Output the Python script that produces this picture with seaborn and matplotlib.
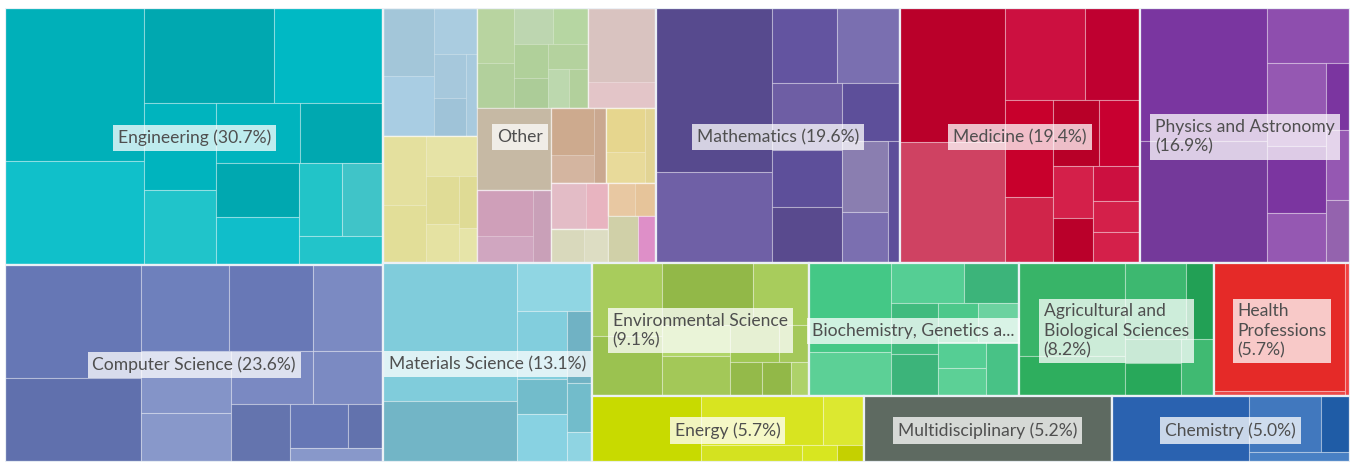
import matplotlib
matplotlib.use("Agg")
import matplotlib.pyplot as plt
from matplotlib.patches import Rectangle
import seaborn as sns

# ---------------- data ----------------
categories = ["Engineering", "Computer Science", "Other", "Mathematics", "Medicine",
              "Physics and Astronomy", "Materials Science", "Environmental Science",
              "Biochemistry, Genetics and Molecular Biology",
              "Agricultural and Biological Sciences", "Health Professions", "Energy",
              "Multidisciplinary", "Chemistry"]
shares = [30.7, 23.6, 22.0, 19.6, 19.4, 16.9, 13.1, 9.1, 8.8, 8.2, 5.7, 5.7, 5.2, 5.0]
labels = ["Engineering (30.7%)", "Computer Science (23.6%)", "Other", "Mathematics (19.6%)",
          "Medicine (19.4%)", "Physics and Astronomy\n(16.9%)", "Materials Science (13.1%)",
          "Environmental Science\n(9.1%)", "Biochemistry, Genetics a...",
          "Agricultural and\nBiological Sciences\n(8.2%)", "Health\nProfessions\n(5.7%)",
          "Energy (5.7%)", "Multidisciplinary (5.2%)", "Chemistry (5.0%)"]

engineering_sub = [20976, 14214, 12220, 10340, 6120, 5328, 4956, 4956, 4400, 3900, 3168, 2952, 2380]
computer_sub = [15255, 11340, 7565, 7224, 6003, 5607, 4361, 4300, 3723, 3363, 2494, 1548, 1316]
other_sub = [11800, 11700, 11000, 6800, 6068, 5400, 4050, 3750, 2576, 1904, 1584, 1410, 846]
other_blue = [3400, 3000, 1932, 1428, 1200, 840]
other_yellow = [2900, 2400, 2000, 1600, 1300, 900, 600]
other_green = [2035, 1665, 1406, 1258, 1122, 1020, 950, 836, 708]
other_beige = [5000, 1800]
other_mauve = [2600, 1500, 1300]
other_brown = [2000, 1200, 850]
other_gold = [1700, 1200, 850]
other_pink = [1600, 976]
other_sage = [1100, 804]
other_peach = [900, 684]
math_sub = [18700, 10374, 4800, 4650, 4623, 3933, 3864, 3312, 3249, 2346, 1353]
medicine_sub = [14070, 12705, 7360, 5060, 4655, 3150, 3000, 2665, 2067, 1755, 1692, 1457, 1457]
physics_sub = [16800, 15330, 4565, 4920, 4000, 2950, 1600, 1680, 1512]
materials_sub = [18084, 7920, 3504, 3283, 1715, 2303, 1750, 1200, 725]
environment_sub = [4896, 4012, 5415, 3300, 2052, 2640, 1749, 1056, 1025, 960, 567]
biochem_sub = [7216, 3526, 2920, 2200, 2350, 1927, 1520, 1558, 1280, 1312, 1701]
agri_sub = [9450, 4095, 4500, 2035, 1295, 1763, 1804]
health_sub = [16256, 650, 660]
energy_sub = [6912, 5760, 1924, 1645, 564, 425]
multi_sub = [15744]
chemistry_sub = [8768, 3840, 1560, 1000]

# ---------------- styles ----------------
sub_values = [engineering_sub, computer_sub, other_sub, math_sub, medicine_sub, physics_sub,
              materials_sub, environment_sub, biochem_sub, agri_sub, health_sub, energy_sub,
              multi_sub, chemistry_sub]
sub_colors = [
    ["#00B0B9", "#10C0CA", "#00A8B0", "#00B9C4", "#00B4BE", "#20C4CA", "#00B4BE", "#00A8B0",
     "#00A8B0", "#10BECA", "#22C4C8", "#40C4C8", "#22C4CA"],
    ["#6677B5", "#6070AD", "#6E80BC", "#6878B6", "#7B8AC2", "#8494C8", "#8898CA", "#7A89C2",
     "#7B8AC2", "#6474AE", "#6677B5", "#6272AD", "#8898CA"],
    ["#A5C8DD", "#E3DF9C", "#B6D4A0", "#D9C3C0", "#C6B9A4", "#CFA0BA", "#CDAA90", "#E6D690",
     "#E3BAC5", "#D8D8BA", "#E8C8A0", "#D0D0A8", "#DE8FC8"],
    ["#574A8E", "#6F60A6", "#6354A0", "#7A6FB0", "#6E5EA4", "#5D4F9A", "#594A8E", "#5D4F9A",
     "#8A7EB0", "#7B6FB0", "#5D4F9A"],
    ["#BA002A", "#CF4262", "#CC1040", "#BF0030", "#C8002C", "#D0254A", "#B80028", "#C80030",
     "#D4204A", "#BA002A", "#CC1040", "#D4204A", "#D4204A"],
    ["#7A36A0", "#74399A", "#8E4EAE", "#9558B2", "#7B35A0", "#9558B2", "#7B35A0", "#9558B2",
     "#9463AE"],
    ["#80CCDB", "#72B5C6", "#90D6E3", "#82CEDD", "#72BCCB", "#88D2E2", "#70B2C4", "#72BCCB",
     "#8FD4E2"],
    ["#A8CC5C", "#9BC250", "#92B848", "#A8CC5C", "#B0D568", "#A3C858", "#9FC753", "#A4C85A",
     "#94BA4A", "#92B848", "#AED26A"],
    ["#44C886", "#5CD096", "#55CE94", "#3CB47A", "#40BB7E", "#3CB47A", "#4CC88A", "#6CD2A0",
     "#55CE94", "#5CD096", "#48C286"],
    ["#38B468", "#2EAE5E", "#3DB870", "#22A055", "#2BAA5E", "#28A85A", "#40BA72"],
    ["#E52A28", "#EC4A48", "#F04040"],
    ["#C8DA00", "#D8E420", "#DCE830", "#D4E220", "#D8E620", "#C5D000"],
    ["#5E6A61"],
    ["#2A62B0", "#4178BE", "#1F5CA6", "#4880C4"],
]
other_nested = {0: (other_blue, ["#A3C6D9", "#A9CDE3", "#AACCE0", "#A6C8DC", "#9FC3D8", "#A8CADE"]),
                1: (other_yellow, ["#E4E09E", "#E2DE98", "#E6E3A6", "#E0DC96", "#E5E2A2", "#DFDB95", "#E6E4A8"]),
                2: (other_green, ["#B8D4A0", "#B2D09C", "#BDD6B0", "#B6D6A2", "#B0D09A", "#ACCC98",
                                  "#B4D29E", "#BCD8AE", "#B2D09C"]),
                3: (other_beige, ["#D9C3C0", "#E3C5C8"]),
                5: (other_mauve, ["#CF9FB9", "#D0A6C0", "#C9A0B8"]),
                6: (other_brown, ["#CDAA8E", "#D4B5A0", "#CAA890"]),
                7: (other_gold, ["#E6D68E", "#E8DA9A", "#E2D494"]),
                8: (other_pink, ["#E3BCC6", "#E8B4C0"]),
                9: (other_sage, ["#D9D9BC", "#DDDDC3"]),
                10: (other_peach, ["#E8C8A2", "#E6C49A"])}

W, H = 1345.0, 454.0


def layout(values, x, y, w, h, direction=0):
    """Alternating-direction squarified layout (low aspect ratio)."""
    total = float(sum(values))
    area = w * h
    rects = []
    state = {"x": x, "y": y, "w": w, "h": h, "d": direction}

    def ratio(a, b):
        return max(a / b, b / a)

    def place(items, t):
        out = []
        if state["d"] == 0:
            cy = state["y"]
            for a in items:
                hh = a / t
                out.append((state["x"], cy, t, hh))
                cy += hh
            state["x"] += t
            state["w"] -= t
        else:
            cx = state["x"]
            for a in items:
                ww = a / t
                out.append((cx, state["y"], ww, t))
                cx += ww
            state["y"] += t
            state["h"] -= t
        return out

    group = []
    for v in values:
        a = area * v / total
        if group:
            side = state["h"] if state["d"] == 0 else state["w"]
            prev = group[-1]
            old_t = sum(group) / side
            new_t = (sum(group) + a) / side
            if ratio(new_t, prev / new_t) > ratio(old_t, prev / old_t):
                rects += place(group, old_t)
                state["d"] = 1 - state["d"]
                group = []
        group.append(a)
    if group:
        side = state["h"] if state["d"] == 0 else state["w"]
        rects += place(group, sum(group) / side)
    return rects


sns.set_theme(style="white")
plt.rcParams["font.family"] = ["Lato", "DejaVu Sans"]

fig = plt.figure(figsize=(13.51, 4.63), dpi=100)
ax = fig.add_axes([5 / 1351, 1 / 463, W / 1351, H / 463])
ax.set_xlim(0, W)
ax.set_ylim(H, 0)
ax.set_axis_off()

thin = (1, 1, 1, 0.3)
cat_rects = layout(shares, 0, 0, W, H, 0)
for ci, (cx, cy, cw, ch) in enumerate(cat_rects):
    subs = layout(sub_values[ci], cx, cy, cw, ch, 0)
    for si, (sx, sy, sw, sh) in enumerate(subs):
        ax.add_patch(Rectangle((sx, sy), sw, sh, facecolor=sub_colors[ci][si],
                               edgecolor=thin, linewidth=0.8))
        if ci == 2 and si in other_nested:
            vals, cols = other_nested[si]
            for k, (nx, ny, nw, nh) in enumerate(layout(vals, sx, sy, sw, sh, 0)):
                ax.add_patch(Rectangle((nx, ny), nw, nh, facecolor=cols[k],
                                       edgecolor=(1, 1, 1, 0.25), linewidth=0.6))
            ax.add_patch(Rectangle((sx, sy), sw, sh, fill=False,
                                   edgecolor=(1, 1, 1, 0.55), linewidth=1.0))
    ax.add_patch(Rectangle((cx, cy), cw, ch, fill=False,
                           edgecolor=(0.93, 0.95, 0.97, 0.95), linewidth=1.6))
    ax.text(cx + cw / 2, cy + ch / 2 + 1.5, labels[ci], ha="center", va="center",
            multialignment="left", fontsize=12.6, color="#4F4F4F", linespacing=1.25,
            bbox=dict(boxstyle="square,pad=0.28", facecolor="white", alpha=0.75,
                      edgecolor="none"))

fig.savefig("out.png", dpi=100, facecolor="white")
